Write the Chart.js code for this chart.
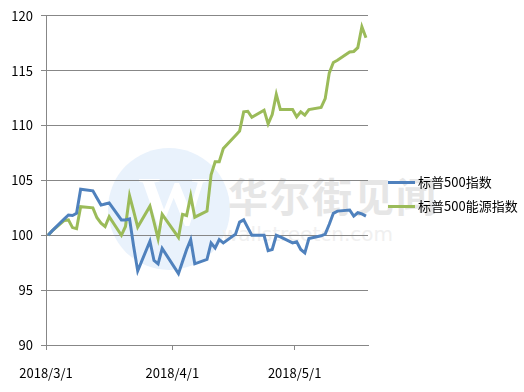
<!DOCTYPE html>
<html>
<head>
<meta charset="utf-8">
<script src="https://cdn.jsdelivr.net/npm/chart.js@4.4.1/dist/chart.umd.min.js"></script>
<style>
  body { margin: 0; background: #fff; }
  .wrap { position: relative; width: 524px; height: 392px; overflow: hidden; font-family: "Noto Sans CJK SC", "Noto Sans", sans-serif; }
  .mark-circle { position: absolute; left: 108px; top: 148px; width: 122px; height: 122px; border-radius: 50%; background: #e9f2fc; }
  .mark-w { position: absolute; left: 138px; top: 162px; font: bold 70px "Liberation Serif", serif; color: #fff; }
  .mark-text { position: absolute; left: 228px; top: 166px; font: bold 40px "Noto Sans CJK SC", sans-serif; color: #e6e6e6; letter-spacing: 2px; }
  .mark-url { position: absolute; left: 222px; top: 222px; font: 20px "DejaVu Sans", sans-serif; color: #f0f0f0; }
  canvas { position: absolute; left: 0; top: 0; }
  .legend { position: absolute; left: 388px; top: 172px; font-size: 13px; color: #000; }
  .legend div { height: 24px; line-height: 20px; white-space: nowrap; }
  .legend .c { display: inline-block; width: 27px; height: 3px; vertical-align: middle; margin-right: 3px; position: relative; top: -1px; }
</style>
</head>
<body>
<div class="wrap">
  <div class="mark-circle"></div>
  <div class="mark-w">W</div>
  <div class="mark-text">华尔街见闻</div>
  <div class="mark-url">wallstreetcn.com</div>
  <canvas id="priceChart" width="524" height="392"></canvas>
  <div class="legend"></div>
</div>
<script>
const dates = [
  "2018-03-01","2018-03-02","2018-03-05","2018-03-06","2018-03-07","2018-03-08","2018-03-09",
  "2018-03-12","2018-03-13","2018-03-14","2018-03-15","2018-03-16","2018-03-19","2018-03-20",
  "2018-03-21","2018-03-22","2018-03-23","2018-03-26","2018-03-27","2018-03-28","2018-03-29",
  "2018-04-02","2018-04-03","2018-04-04","2018-04-05","2018-04-06","2018-04-09","2018-04-10",
  "2018-04-11","2018-04-12","2018-04-13","2018-04-16","2018-04-17","2018-04-18","2018-04-19",
  "2018-04-20","2018-04-23","2018-04-24","2018-04-25","2018-04-26","2018-04-27","2018-04-30",
  "2018-05-01","2018-05-02","2018-05-03","2018-05-04","2018-05-07","2018-05-08","2018-05-09",
  "2018-05-10","2018-05-11","2018-05-14","2018-05-15","2018-05-16","2018-05-17","2018-05-18"
];
const sp500 = [
  100.0, 100.4, 101.5, 101.85, 101.8, 102.0, 104.2, 104.05, 103.4, 102.75, 102.85, 102.95, 101.4, 101.4,
  101.5, 99.0, 96.75, 99.45, 97.7, 97.4, 98.8,
  96.5, 97.6, 98.7, 99.6, 97.4, 97.8, 99.3, 98.85, 99.6, 99.3, 100.1, 101.2, 101.4, 100.7,
  100.0, 100.0, 98.6, 98.7, 100.0, 99.85, 99.3,
  99.4, 98.7, 98.4, 99.7, 99.95, 100.1, 101.0, 102.0, 102.2, 102.3, 101.75, 102.05, 101.95, 101.75
];
const sp500Energy = [
  100.0, 100.4, 101.35, 101.4, 100.7, 100.6, 102.6, 102.5, 101.6, 101.1, 100.8, 101.7, 100.0, 100.8,
  103.6, 102.2, 100.75, 102.65, 101.2, 99.7, 101.9,
  99.8, 101.9, 101.8, 103.6, 101.65, 102.2, 105.5, 106.7, 106.7, 107.9, 109.1, 109.5, 111.25, 111.3,
  110.75, 111.4, 110.15, 111.0, 112.85, 111.45, 111.45,
  110.8, 111.25, 110.95, 111.45, 111.65, 112.45, 114.8, 115.75, 115.95, 116.7, 116.75, 117.1, 119.0, 118.0
];
const seriesNames = ["标普500指数", "标普500能源指数"];
const seriesColors = ["#4F81BD", "#9BBB59"];
const tickDates = ["2018-03-01", "2018-04-01", "2018-05-01"];
const tickLabels = ["2018/3/1", "2018/4/1", "2018/5/1"];

const DAY = 86400000;
const start = Date.parse(dates[0]);
// excel date axis: each point sits in the middle of its day slot
const dayPos = d => (Date.parse(d) - start) / DAY;
const xs = dates.map(d => dayPos(d) + 0.5);
const tickDays = tickDates.map(dayPos);
const lastDay = dayPos(dates[dates.length - 1]) + 1;

const axisGray = "#878787";
const font = { family: '"Noto Sans CJK SC", "Noto Sans", sans-serif', size: 13 };

function toPoints(vals) {
  return vals.map((v, i) => ({ x: xs[i], y: v }));
}

new Chart(document.getElementById("priceChart"), {
  type: "line",
  data: {
    datasets: [sp500, sp500Energy].map((vals, i) => ({
      label: seriesNames[i],
      data: toPoints(vals),
      borderColor: seriesColors[i],
      backgroundColor: seriesColors[i],
      borderWidth: 3,
      pointRadius: 0,
      tension: 0
    }))
  },
  options: {
    responsive: false,
    animation: false,
    layout: { padding: { top: 6, right: 156, left: 0, bottom: 0 } },
    plugins: { legend: { display: false }, tooltip: { enabled: false } },
    scales: {
      x: {
        type: "linear",
        min: 0,
        max: lastDay,
        afterBuildTicks: s => { s.ticks = tickDays.map(v => ({ value: v })); },
        afterFit: s => { s.height = 47; },
        ticks: {
          autoSkip: false,
          maxRotation: 0,
          padding: 15,
          color: "#000",
          font: font,
          callback: (v, i) => tickLabels[i]
        },
        grid: { drawOnChartArea: false, drawTicks: true, tickLength: 5, tickColor: axisGray },
        border: { display: true, color: axisGray }
      },
      y: {
        min: 90,
        max: 120,
        afterFit: s => { s.width = 46; },
        ticks: { stepSize: 5, padding: 8, color: "#000", font: font },
        grid: { color: axisGray, lineWidth: 1, drawTicks: true, tickLength: 5, tickColor: axisGray },
        border: { display: true, color: axisGray }
      }
    }
  }
});

function renderLegend() {
  const legend = document.querySelector(".legend");
  legend.innerHTML = "";
  seriesNames.forEach((name, i) => {
    legend.innerHTML += `<div><span class="c" style="background:${seriesColors[i]}"></span>${name}</div>`;
  });
}
renderLegend();
</script>
</body>
</html>
